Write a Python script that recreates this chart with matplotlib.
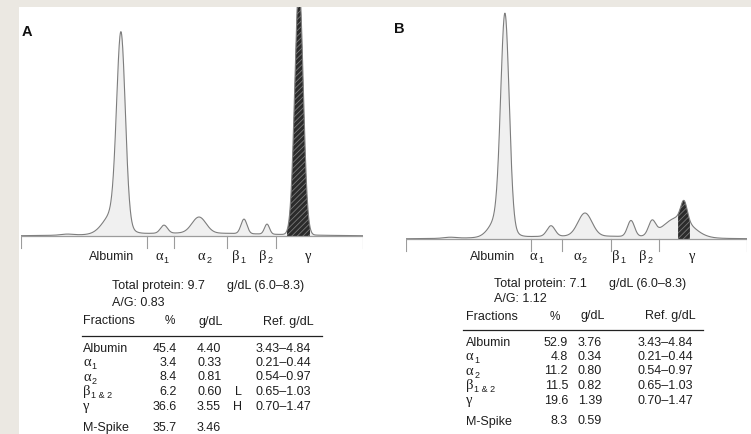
import numpy as np
import matplotlib
matplotlib.use("Agg")
import matplotlib.pyplot as plt
from matplotlib.patches import Rectangle

# ---------------- data ----------------
# densitogram peaks (mobility units along baseline, height units)
peak_center_A = [46, 93, 100, 143, 178, 223, 246, 278, 169]
peak_height_A = [1, 22, 185, 8, 16, 14.5, 10, 250, 3]
peak_sigma_A = [6, 10, 4.3, 3.5, 7, 3, 2.5, 4.2, 80]
dividers_A = [0, 126, 153, 206, 255, 342]
mspike_range_A = [266, 289]

peak_center_B = [44, 94, 99, 145, 179, 225, 246, 272, 278, 175]
peak_height_B = [1, 22, 205, 10.5, 23, 16, 13.5, 20, 19, 3]
peak_sigma_B = [6, 9, 4.2, 4, 7, 3.5, 3.5, 14, 3.2, 80]
dividers_B = [0, 125, 156, 205, 253, 341]
mspike_range_B = [272, 284]

row_names = ["Albumin", "α1", "α2", "β1 & 2", "γ"]
pct_A = [45.4, 3.4, 8.4, 6.2, 36.6]
gdl_A = [4.40, 0.33, 0.81, 0.60, 3.55]
flag_A = ["", "", "", "L", "H"]
pct_B = [52.9, 4.8, 11.2, 11.5, 19.6]
gdl_B = [3.76, 0.34, 0.80, 0.82, 1.39]
flag_B = ["", "", "", "", ""]
ref_ranges = ["3.43–4.84", "0.21–0.44", "0.54–0.97", "0.65–1.03", "0.70–1.47"]
mspike_A = [35.7, 3.46]
mspike_B = [8.3, 0.59]
total_A, ag_A = 9.7, 0.83
total_B, ag_B = 7.1, 1.12
total_ref = "(6.0–8.3)"

# ---------------- figure ----------------
W, H = 751, 434
fig = plt.figure(figsize=(W / 100, H / 100), dpi=100)
fig.patch.set_facecolor("#ebe8e2")
fig.add_artist(Rectangle((19 / W, 0), 1 - 19 / W, 1 - 7 / H, transform=fig.transFigure,
                         facecolor="white", edgecolor="none", zorder=0))

SANS = "Liberation Sans"
SERIF = "Liberation Serif"
TXT = "#1e1e1e"
FS = 9
DY = -2  # vertical text adjustment

overlay = fig.add_axes([0, 0, 1, 1], facecolor="none", zorder=5)
overlay.set_xlim(0, W)
overlay.set_ylim(H, 0)
overlay.axis("off")


def T(x, y, s, ha="left", va="center_baseline", fs=FS, **kw):
    return overlay.text(x, y + DY, s, ha=ha, va=va, fontsize=fs, family=SANS, color=TXT, **kw)


def greek(x, y, letter, sub, ha="left", fs=FS + 1.5, subfs=6.5):
    t = overlay.text(x, y + DY, letter, ha=ha, va="center_baseline", fontsize=fs,
                     family=SERIF, color=TXT)
    if sub:
        overlay.annotate(sub, xy=(1.0, 0.22), xycoords=t, xytext=(0.6, 0),
                         textcoords="offset points", ha="left", va="center",
                         fontsize=subfs, family=SANS, color=TXT)
    return t


def label(x, y, name, ha="left"):
    if name[0] in "αβγ":
        letter, sub = name[0], name[1:]
        return greek(x, y, letter, sub, ha=ha)
    return T(x, y, name, ha=ha)


def curve_panel(rect_px, xmax, ytop, centers, heights, sigmas, dividers, mrange):
    l, t, r, b = rect_px
    ax = fig.add_axes([l / W, 1 - b / H, (r - l) / W, (b - t) / H], facecolor="none", zorder=2)
    ax.set_xlim(0, xmax)
    ax.set_ylim(-(b - t - ytop), ytop)
    ax.axis("off")
    x = np.linspace(0, xmax, 3000)
    y = np.zeros_like(x)
    for c, h, s in zip(centers, heights, sigmas):
        y += h * np.exp(-0.5 * ((x - c) / s) ** 2)
    ax.fill_between(x, 0, y, color="#f0f0f0", lw=0, zorder=1)
    m = (x >= mrange[0]) & (x <= mrange[1])
    ax.fill_between(x[m], 0, y[m], facecolor="#2b2b2b", edgecolor="#7a7a7a",
                    hatch="//////", lw=0, zorder=2)
    ax.plot(x, y, color="#7d7d7d", lw=0.8, zorder=3)
    ax.plot([0, xmax], [0, 0], color="#9c9c9c", lw=0.9, zorder=3)
    for d in dividers:
        ax.plot([d, d], [0, -12], color="#9c9c9c", lw=0.8, zorder=3)
    return ax


plt.rcParams["hatch.linewidth"] = 0.6

curve_panel((21, 7, 363, 250), 342, 229, peak_center_A, peak_height_A, peak_sigma_A,
            dividers_A, mspike_range_A)
curve_panel((406, 7, 747, 253), 341, 232, peak_center_B, peak_height_B, peak_sigma_B,
            dividers_B, mspike_range_B)

# panel letters
overlay.text(22, 32, "A", fontsize=10.5, fontweight="bold", family=SANS, color="#111", va="center")
overlay.text(394, 29, "B", fontsize=10.5, fontweight="bold", family=SANS, color="#111", va="center")


def under_labels(y, xs):
    T(xs[0], y, "Albumin", ha="center")
    greek(xs[1] - 5, y, "α", "1")
    greek(xs[2] - 5, y, "α", "2")
    greek(xs[3] - 5, y, "β", "1")
    greek(xs[4] - 5, y, "β", "2")
    greek(xs[5], y, "γ", "", ha="center")


under_labels(257, [112, 160, 203, 237, 264, 308])
under_labels(257, [493, 535, 578, 617, 644, 692])


def table(x0, ytot, yag, yhead, yrule, rule_x, rows_y, yms, cols, pct, gdl, flag, ms, total, ag):
    xlab, xpct, xg, xflag, xref, xpct_h, xg_h, xref_h = cols
    T(x0 + 29, ytot, f"Total protein: {total}")
    T(x0 + 144, ytot, f"g/dL {total_ref}")
    T(x0 + 29, yag, f"A/G: {ag:.2f}")
    T(xlab, yhead, "Fractions")
    T(xpct_h, yhead, "%", ha="center", fs=FS - 0.5)
    T(xg_h, yhead, "g/dL", ha="center")
    T(xref_h, yhead, "Ref. g/dL", ha="right")
    overlay.plot(rule_x, [yrule, yrule], color="#222", lw=0.9)
    for i, name in enumerate(row_names):
        yy = rows_y[i]
        label(xlab, yy, name)
        T(xpct, yy, f"{pct[i]:.1f}", ha="right")
        T(xg, yy, f"{gdl[i]:.2f}")
        if flag[i]:
            T(xflag, yy, flag[i], ha="center")
        T(xref, yy, ref_ranges[i], ha="right")
    T(xlab, yms, "M-Spike")
    T(xpct, yms, f"{ms[0]:.1f}", ha="right")
    T(xg, yms, f"{ms[1]:.2f}")


table(83, 287, 303, 322, 336, [82, 322], [349, 363.5, 378, 392.5, 407], 428.5,
      (83, 177, 197, 238, 311, 170, 211, 314), pct_A, gdl_A, flag_A, mspike_A, total_A, ag_A)
table(465, 284, 299, 317, 330, [463, 703], [343, 357.5, 372, 386.5, 401], 422,
      (466, 568, 578, 620, 693, 555, 593, 696), pct_B, gdl_B, flag_B, mspike_B, total_B, ag_B)

fig.savefig("out.png", dpi=100, facecolor=fig.get_facecolor())
